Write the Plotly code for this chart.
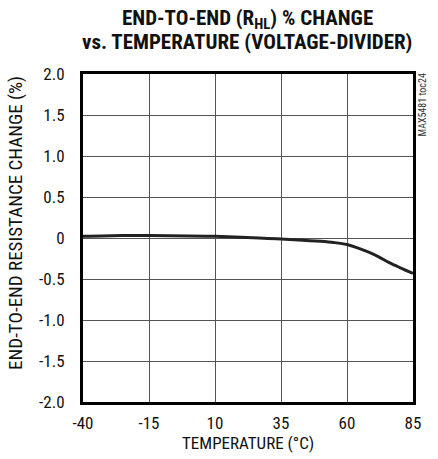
import plotly.graph_objects as go

temps = [-40, -25, -15, 0, 10, 20, 30, 40, 50, 55, 60, 64, 68, 72, 76, 80, 85]
change = [0.02, 0.03, 0.03, 0.025, 0.02, 0.01, -0.005, -0.02, -0.04, -0.055, -0.08, -0.12, -0.17, -0.23, -0.30, -0.36, -0.43]
x_ticks = [-40, -15, 10, 35, 60, 85]
y_ticks = [2.0, 1.5, 1.0, 0.5, 0, -0.5, -1.0, -1.5, -2.0]
y_labels = ["2.0", "1.5", "1.0", "0.5", "0", "-0.5", "-1.0", "-1.5", "-2.0"]
title_lines = ["<b>END-TO-END (R<sub>HL</sub>) % CHANGE</b>",
               "<b>vs. TEMPERATURE (VOLTAGE-DIVIDER)</b>"]

FONT = "Liberation Sans Narrow, Arial Narrow, Roboto Condensed, sans-serif"

fig = go.Figure()
fig.add_trace(go.Scatter(x=temps, y=change, mode="lines",
                         line=dict(color="#222222", width=3, shape="spline", smoothing=1.0),
                         hoverinfo="skip", showlegend=False))

fig.update_layout(
    width=438, height=459,
    margin=dict(l=83, r=25, t=74, b=57),
    paper_bgcolor="white", plot_bgcolor="white",
    font=dict(family=FONT, size=17, color="#111111"),
    xaxis=dict(range=[-40, 85], tickvals=x_ticks, ticktext=[str(v) for v in x_ticks],
               showgrid=True, gridcolor="#555555", gridwidth=1, zeroline=False,
               showline=True, linecolor="black", linewidth=3, mirror=True,
               ticks="outside", ticklen=4, tickcolor="white",
               tickfont=dict(size=17)),
    yaxis=dict(range=[-2.0, 2.0], tickvals=y_ticks, ticktext=y_labels,
               showgrid=True, gridcolor="#555555", gridwidth=1, zeroline=False,
               showline=True, linecolor="black", linewidth=3, mirror=True,
               ticks="outside", ticklen=12, tickcolor="white",
               tickfont=dict(size=17)),
)

# title lines
fig.add_annotation(text=title_lines[0], xref="paper", yref="paper", x=0.497, y=1.0,
                   yshift=55, xanchor="center", yanchor="middle", showarrow=False,
                   font=dict(family=FONT, size=21, color="#111111"))
fig.add_annotation(text=title_lines[1], xref="paper", yref="paper", x=0.497, y=1.0,
                   yshift=32, xanchor="center", yanchor="middle", showarrow=False,
                   font=dict(family=FONT, size=21, color="#111111"))
# axis titles
fig.add_annotation(text="TEMPERATURE (°C)", xref="paper", yref="paper", x=0.5, y=0,
                   yshift=-41, xanchor="center", yanchor="middle", showarrow=False,
                   font=dict(family=FONT, size=17, color="#111111"))
fig.add_annotation(text="END-TO-END RESISTANCE CHANGE (%)", xref="paper", yref="paper",
                   x=0, xshift=-67, y=0.546, xanchor="center", yanchor="middle",
                   textangle=-90, showarrow=False,
                   font=dict(family=FONT, size=19, color="#111111"))
# watermark
fig.add_annotation(text="MAX5481 toc24", xref="paper", yref="paper",
                   x=1.0, xanchor="center", xshift=9, y=1.0, yanchor="top", yshift=2,
                   textangle=-90, showarrow=False,
                   font=dict(family=FONT, size=10, color="#333333"))

fig.write_html("out.html", config={"displayModeBar": False},
               post_script="document.body.style.margin='0';document.body.style.overflow='hidden';")
